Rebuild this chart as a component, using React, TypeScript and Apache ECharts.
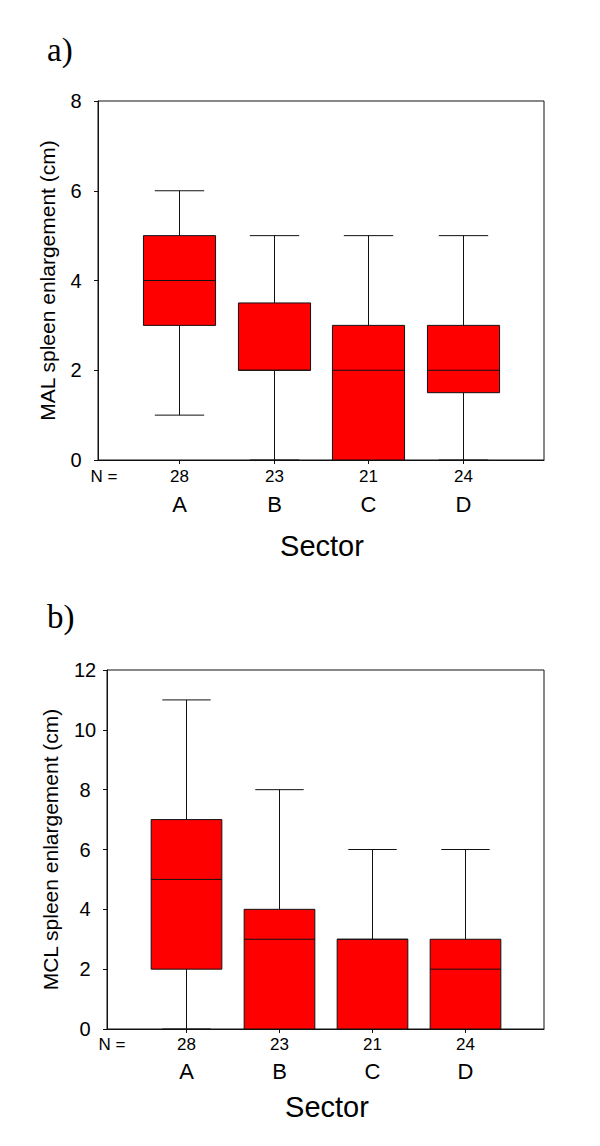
import React, { useEffect, useRef } from "react";
import * as echarts from "echarts";

const categories = ["A", "B", "C", "D"];
const sampleSizes = [28, 23, 21, 24];

// Panel a) MAL spleen enlargement (cm)
const malLow = [1, 0, 0, 0];
const malQ1 = [3, 2, 0, 1.5];
const malMedian = [4, 2, 2, 2];
const malQ3 = [5, 3.5, 3, 3];
const malHigh = [6, 5, 5, 5];

// Panel b) MCL spleen enlargement (cm)
const mclLow = [0, 0, 0, 0];
const mclQ1 = [2, 0, 0, 0];
const mclMedian = [5, 3, 3, 2];
const mclQ3 = [7, 4, 3, 3];
const mclHigh = [11, 8, 6, 6];

const malAxis = { min: 0, max: 8, interval: 2 };
const mclAxis = { min: 0, max: 12, interval: 2 };

const FONT = '"Liberation Sans", Arial, Helvetica, sans-serif';
const SERIF = '"Liberation Serif", "Times New Roman", serif';

function buildRows(lo: number[], q1: number[], med: number[], q3: number[], hi: number[]) {
  return categories.map((_, i) => [i + 1, lo[i], q1[i], med[i], q3[i], hi[i]]);
}

function makeRender(nOff: number, catOff: number) {
  return (params: any, api: any) => {
    const i = params.dataIndex;
    const x = api.value(0);
    const lo = api.coord([x, api.value(1)]);
    const q1 = api.coord([x, api.value(2)]);
    const med = api.coord([x, api.value(3)]);
    const q3 = api.coord([x, api.value(4)]);
    const hi = api.coord([x, api.value(5)]);
    const base = api.coord([x, 0]);
    const bw = api.size([0.76, 0])[0];
    const cw = api.size([0.52, 0])[0];
    const cx = Math.round(hi[0]) + 0.5;
    const ls = { stroke: "#111", lineWidth: 1 };
    return {
      type: "group",
      children: [
        { type: "line", shape: { x1: cx, y1: hi[1], x2: cx, y2: q3[1] }, style: ls },
        { type: "line", shape: { x1: cx, y1: q1[1], x2: cx, y2: lo[1] }, style: ls },
        { type: "line", shape: { x1: cx - cw / 2, y1: hi[1], x2: cx + cw / 2, y2: hi[1] }, style: ls },
        { type: "line", shape: { x1: cx - cw / 2, y1: lo[1], x2: cx + cw / 2, y2: lo[1] }, style: ls },
        {
          type: "rect",
          shape: { x: cx - bw / 2, y: q3[1], width: bw, height: q1[1] - q3[1] },
          style: { fill: "#ff0000", stroke: "#111", lineWidth: 1 },
        },
        { type: "line", shape: { x1: cx - bw / 2, y1: med[1], x2: cx + bw / 2, y2: med[1] }, style: ls },
        { type: "line", shape: { x1: cx, y1: base[1], x2: cx, y2: base[1] + 4 }, style: ls },
        {
          type: "text",
          x: cx,
          y: base[1] + nOff,
          style: { text: String(sampleSizes[i]), fill: "#000", fontSize: 17, fontFamily: FONT, align: "center", verticalAlign: "middle" },
        },
        {
          type: "text",
          x: cx,
          y: base[1] + catOff,
          style: { text: categories[i], fill: "#000", fontSize: 22, fontFamily: FONT, align: "center", verticalAlign: "middle" },
        },
      ],
    };
  };
}

export default function App() {
  const ref = useRef<HTMLDivElement>(null);
  useEffect(() => {
    document.body.style.margin = "0";
    if (!ref.current) return;
    const chart = echarts.init(ref.current, undefined, { renderer: "svg" });
    const axisLine = { show: true, lineStyle: { color: "#111", width: 1 } };
    const xAxisCommon = {
      type: "value",
      min: 0.15,
      max: 4.85,
      axisLine,
      axisTick: { show: false },
      axisLabel: { show: false },
      splitLine: { show: false },
    };
    const yAxisCommon = {
      type: "value",
      axisLine,
      axisTick: { show: true, inside: false, length: 4, lineStyle: { color: "#111" } },
      axisLabel: { color: "#000", fontSize: 20, fontFamily: FONT, align: "center", margin: 22 },
      splitLine: { show: false },
    };
    chart.setOption({
      animation: false,
      backgroundColor: "#fff",
      grid: [
        { left: 98, top: 101, width: 446, height: 359, show: true, borderColor: "#111", borderWidth: 1, backgroundColor: "transparent" },
        { left: 107, top: 670, width: 437, height: 359, show: true, borderColor: "#111", borderWidth: 1, backgroundColor: "transparent" },
      ],
      xAxis: [
        { ...xAxisCommon, gridIndex: 0 },
        { ...xAxisCommon, gridIndex: 1 },
      ],
      yAxis: [
        { ...yAxisCommon, gridIndex: 0, ...malAxis },
        { ...yAxisCommon, gridIndex: 1, ...mclAxis },
      ],
      series: [
        {
          type: "custom",
          xAxisIndex: 0,
          yAxisIndex: 0,
          clip: false,
          encode: { x: 0, y: [1, 2, 3, 4, 5] },
          data: buildRows(malLow, malQ1, malMedian, malQ3, malHigh),
          renderItem: makeRender(16, 44.5),
        },
        {
          type: "custom",
          xAxisIndex: 1,
          yAxisIndex: 1,
          clip: false,
          encode: { x: 0, y: [1, 2, 3, 4, 5] },
          data: buildRows(mclLow, mclQ1, mclMedian, mclQ3, mclHigh),
          renderItem: makeRender(15, 42),
        },
      ],
      graphic: [
        { type: "text", x: 47, y: 50, style: { text: "a)", fill: "#000", fontSize: 33, fontFamily: SERIF, align: "left", verticalAlign: "middle" } },
        { type: "text", x: 47, y: 617, style: { text: "b)", fill: "#000", fontSize: 33, fontFamily: SERIF, align: "left", verticalAlign: "middle" } },
        { type: "text", x: 47, y: 280.5, rotation: Math.PI / 2, style: { text: "MAL spleen enlargement (cm)", fill: "#000", fontSize: 21, fontFamily: FONT, align: "center", verticalAlign: "middle" } },
        { type: "text", x: 50, y: 849.5, rotation: Math.PI / 2, style: { text: "MCL spleen enlargement (cm)", fill: "#000", fontSize: 21, fontFamily: FONT, align: "center", verticalAlign: "middle" } },
        { type: "text", x: 104, y: 476, style: { text: "N =", fill: "#000", fontSize: 17, fontFamily: FONT, align: "center", verticalAlign: "middle" } },
        { type: "text", x: 112, y: 1044, style: { text: "N =", fill: "#000", fontSize: 17, fontFamily: FONT, align: "center", verticalAlign: "middle" } },
        { type: "text", x: 322, y: 546, style: { text: "Sector", fill: "#000", fontSize: 29, fontFamily: FONT, align: "center", verticalAlign: "middle" } },
        { type: "text", x: 327, y: 1107, style: { text: "Sector", fill: "#000", fontSize: 29, fontFamily: FONT, align: "center", verticalAlign: "middle" } },
      ],
    });
    return () => chart.dispose();
  }, []);
  return <div ref={ref} style={{ width: 600, height: 1146 }} />;
}
